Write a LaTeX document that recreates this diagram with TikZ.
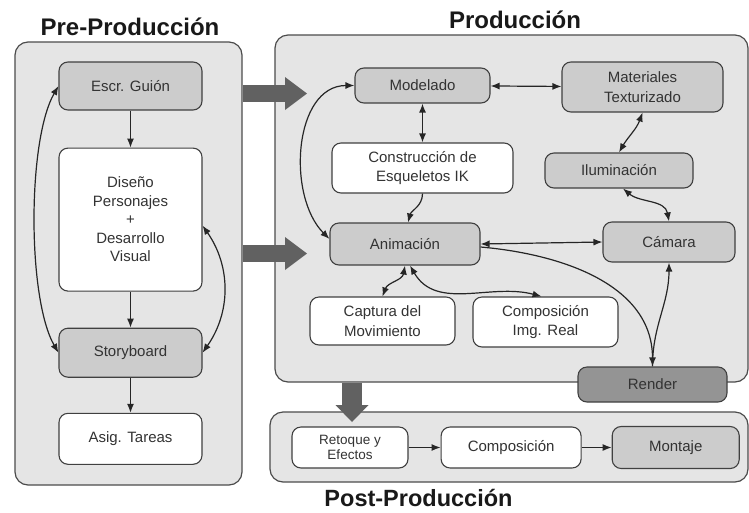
\documentclass[tikz,border=0pt]{standalone}
\usepackage{fontspec}
\setmainfont{Liberation Sans}
\usetikzlibrary{arrows.meta,positioning}

\begin{document}
\begin{tikzpicture}[
    x=1pt, y=1pt,
    phase/.style={draw=black!70, fill=black!10, line width=1.2pt, rounded corners=13pt},
    heading/.style={font=\fontsize{24}{28}\selectfont\bfseries, text=black!90, anchor=base, inner sep=0pt},
    stage/.style={draw=black!75, fill=black!20, line width=1.1pt, rounded corners=9pt, align=center, inner sep=2pt, text=black!80, font=\fontsize{15}{19.5}\selectfont},
    plainstage/.style={stage, fill=white},
    renderstage/.style={stage, fill=black!42},
    link/.style={-{Latex[length=9pt,width=7pt]}, line width=1.2pt, black!85},
    twoway/.style={{Latex[length=9pt,width=7pt]}-{Latex[length=9pt,width=7pt]}, line width=1.2pt, black!85},
    phaselink/.style={-{Triangle[length=22pt,width=33pt,line width=0pt]}, line width=17pt, black!62}
]
\useasboundingbox (0,0) rectangle (749,-512);

% phase panels
\node[phase, minimum width=227pt, minimum height=443pt] (pre) at (128.5,-263.5) {};
\node[phase, minimum width=473pt, minimum height=347pt] (prod) at (511.5,-208.5) {};
\node[phase, minimum width=478pt, minimum height=70pt] (post) at (509,-447) {};
\node[heading] (pretitle) at (130,-35) {Pre-Producción};
\node[heading] (prodtitle) at (515,-28) {Producción};
\node[heading, font=\fontsize{23.5}{28}\selectfont\bfseries] (posttitle) at (418.5,-506) {Post-Producción};

% pre-produccion
\node[stage, minimum width=143pt, minimum height=48pt] (guion) at (130.5,-86) {Escr. Guión};
\node[plainstage, minimum width=143pt, minimum height=143pt, below=37pt of guion, font=\fontsize{15}{18.5}\selectfont] (diseno) {Diseño\\Personajes\\+\\Desarrollo\\Visual};
\node[stage, minimum width=143pt, minimum height=49pt, below=36pt of diseno] (story) {Storyboard};
\node[plainstage, minimum width=143pt, minimum height=51pt, below=35pt of story] (tareas) {Asig. Tareas};

% produccion
\node[stage, minimum width=135pt, minimum height=35pt] (model) at (422.5,-85.5) {Modelado};
\node[stage, minimum width=161pt, minimum height=50pt] (mater) at (642.5,-87) {Materiales\\Texturizado};
\node[plainstage, minimum width=181pt, minimum height=50pt] (esquel) at (422.5,-168) {Construcción de\\Esqueletos IK};
\node[stage, minimum width=148pt, minimum height=35pt] (ilum) at (619,-170.5) {Iluminación};
\node[stage, minimum width=150pt, minimum height=42pt] (anim) at (405,-244) {Animación};
\node[stage, minimum width=132pt, minimum height=40pt] (cam) at (669,-242) {Cámara};
\node[plainstage, minimum width=145pt, minimum height=48pt] (captura) at (382.5,-321) {Captura del\\Movimiento};
\node[plainstage, minimum width=145pt, minimum height=50pt] (compimg) at (545.5,-322) {Composición\\Img. Real};
\node[renderstage, minimum width=149pt, minimum height=35pt] (render) at (652.5,-384.5) {Render};

% post-produccion
\node[plainstage, minimum width=116pt, minimum height=41pt, font=\fontsize{13.5}{15}\selectfont] (retoque) at (350,-447.5) {Retoque y\\Efectos};
\node[plainstage, minimum width=140pt, minimum height=41pt, right=32pt of retoque] (compos) {Composición};
\node[stage, minimum width=127pt, minimum height=42pt, right=30pt of compos] (montaje) {Montaje};

% flujo pre-produccion
\draw[link] (guion) -- (diseno);
\draw[link] (diseno) -- (story);
\draw[link] (story) -- (tareas);
\draw[twoway] (guion.west) to[out=240,in=120,looseness=0.6] (story.west);
\draw[twoway] ([yshift=-6pt]diseno.east) to[out=-55,in=55] (story.east);

% flujo produccion
\draw[twoway] (model) -- (mater);
\draw[twoway] (model) -- (esquel);
\draw[link] (esquel.south) to[out=-90,in=75] ([xshift=3pt]anim.north);
\draw[twoway] (model.west) to[out=180,in=135] ([yshift=5pt]anim.west);
\draw[twoway] (mater.south) to[out=-110,in=60] (ilum.north);
\draw[twoway] ([xshift=4pt]ilum.south) to[out=-40,in=100] (cam.north);
\draw[twoway] (anim.east) -- (cam.west);
\draw[link] ([yshift=-3pt]anim.east) to[out=-5,in=90] (render.north);
\draw[link] (render.north) to[out=90,in=-90] (cam.south);
\draw[twoway] (anim.south) to[out=-100,in=70] (captura.north);
\draw[twoway] ([xshift=5pt]anim.south) to[out=-60,in=165] ([xshift=-4pt]compimg.north);

% flujo post-produccion
\draw[link] (retoque) -- (compos);
\draw[link] (compos) -- (montaje);

% paso entre fases
\coordinate (tipa) at (307,-93.5);
\coordinate (tipb) at (307,-253.5);
\coordinate (tipc) at (352,-422);
\draw[phaselink] (pre.east |- tipa) -- (tipa);
\draw[phaselink] (pre.east |- tipb) -- (tipb);
\draw[phaselink, -{Triangle[length=17pt,width=33pt,line width=0pt]}, line width=20pt] (prod.south -| tipc) -- (tipc);
\end{tikzpicture}
\end{document}
